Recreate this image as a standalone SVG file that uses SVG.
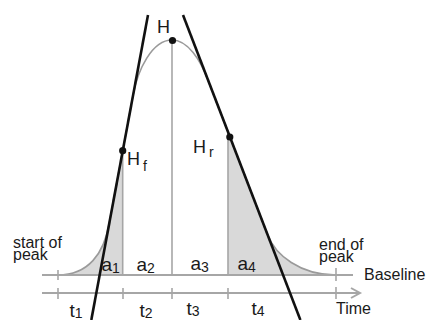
<svg xmlns="http://www.w3.org/2000/svg" width="427" height="320" viewBox="0 0 427 320">
<style>
.axis{stroke:#a6a6a6;stroke-width:2;fill:none}
.vl{stroke:#a6a6a6;stroke-width:1.6;fill:none}
.curve{stroke:#9a9a9a;stroke-width:1.6;fill:none}
.shade{fill:#d9d9d9;stroke:none}
.tan{stroke:#111;stroke-width:2.6;fill:none;stroke-linecap:butt}
.dot{fill:#111}
text{font-family:"Liberation Sans",Arial,sans-serif;fill:#1a1a1a}
.lbl{font-size:19px}
.sub{font-size:14px}
.sm{font-size:16px}
</style>
<rect width="427" height="320" fill="#fff"/>
<g id="areas">
<path class="shade" d="M58,275 C88,275 104,254 109.3,223 L122.7,150.7 L122.7,275 Z"/>
<path class="shade" d="M228,131.9 L267.7,235 C275.4,255 300,275 336,275 L228,275 Z"/>
</g>
<g id="peak">
<path class="curve" d="M58,275 C88,275 104,254 109.3,223 L133.1,95 C137.7,70 152,40 172,40 C188,40 200.3,60 208,80 L267.7,235 C275.4,255 300,275 336,275"/>
</g>
<g id="axes">
<line class="axis" x1="42" y1="275" x2="353" y2="275"/>
<line class="axis" x1="42" y1="293" x2="360" y2="293"/>
<polyline class="axis" points="351,288 360,293 351,298"/>
<line class="vl" x1="58" y1="270" x2="58" y2="280"/>
<line class="vl" x1="336" y1="268" x2="336" y2="281"/>
<line class="vl" x1="58" y1="288" x2="58" y2="299"/>
<line class="vl" x1="123" y1="288" x2="123" y2="299"/>
<line class="vl" x1="172" y1="288" x2="172" y2="299"/>
<line class="vl" x1="228" y1="288" x2="228" y2="299"/>
<line class="vl" x1="336" y1="287" x2="336" y2="299"/>
</g>
<g id="dividers">
<line class="vl" x1="122.7" y1="151" x2="122.7" y2="275"/>
<line class="vl" x1="172" y1="40" x2="172" y2="275"/>
<line class="vl" x1="228" y1="132" x2="228" y2="275"/>
</g>
<g id="tangents">
<line class="tan" x1="148" y1="15" x2="91.3" y2="320"/>
<line class="tan" x1="183" y1="15" x2="300.4" y2="320"/>
</g>
<g id="points">
<circle class="dot" cx="172.5" cy="40.5" r="3.6"/>
<circle class="dot" cx="122.7" cy="150.7" r="3.6"/>
<circle class="dot" cx="229.8" cy="137" r="3.6"/>
</g>
<g id="labels">
<text x="157" y="33" font-size="18">H</text>
<text x="127" y="165" font-size="18">H<tspan class="sub" dy="6" dx="3">f</tspan></text>
<text x="193" y="153" font-size="18">H<tspan class="sub" dy="4" dx="3">r</tspan></text>
<text x="13" y="248" class="sm">start of</text>
<text x="13" y="260" class="sm">peak</text>
<text x="319" y="250" class="sm">end of</text>
<text x="319" y="262" class="sm">peak</text>
<text x="364" y="280" class="sm">Baseline</text>
<text x="336" y="314" class="sm">Time</text>
<text x="101.5" y="271" class="lbl">a<tspan class="sub" dy="2">1</tspan></text>
<text x="136.5" y="271" class="lbl">a<tspan class="sub" dy="2">2</tspan></text>
<text x="190.5" y="270" class="lbl">a<tspan class="sub" dy="2">3</tspan></text>
<text x="237.5" y="270" class="lbl">a<tspan class="sub" dy="2">4</tspan></text>
<text x="69.5" y="317" class="lbl">t<tspan class="sub" dy="1">1</tspan></text>
<text x="139.5" y="317" class="lbl">t<tspan class="sub" dy="1">2</tspan></text>
<text x="186.5" y="315" class="lbl">t<tspan class="sub" dy="1">3</tspan></text>
<text x="251.5" y="315" class="lbl">t<tspan class="sub" dy="1">4</tspan></text>
</g>
</svg>
